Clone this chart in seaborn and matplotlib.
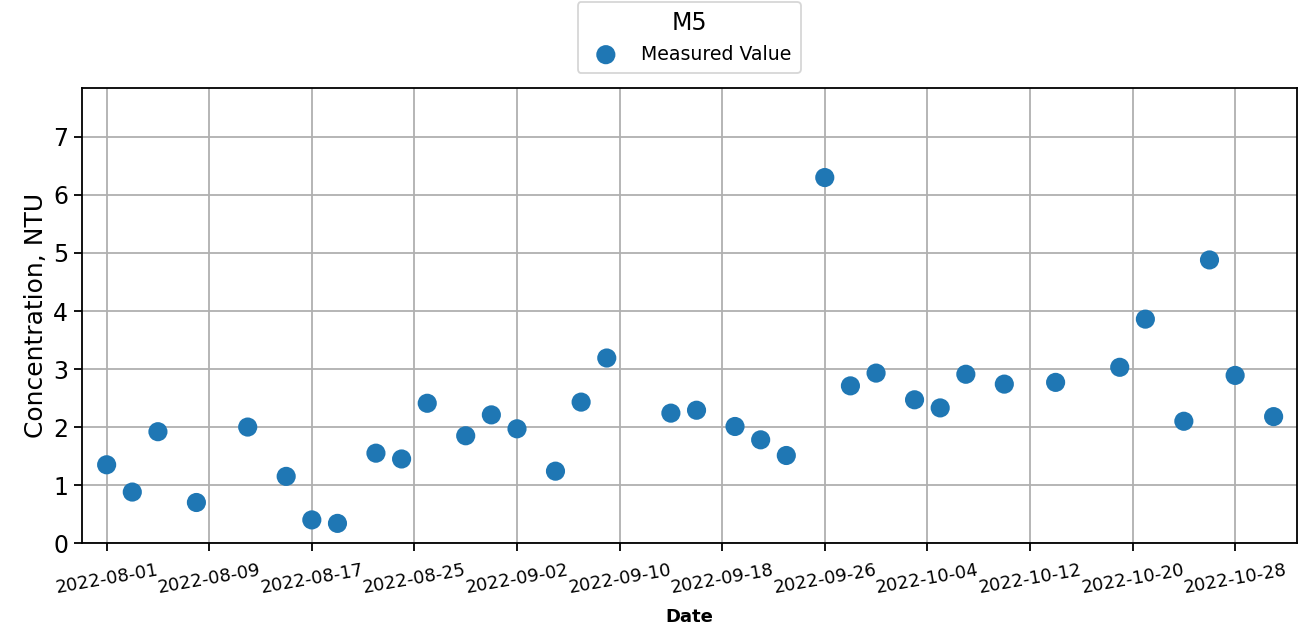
import matplotlib
matplotlib.use("Agg")
import matplotlib.pyplot as plt
import matplotlib.dates as mdates
import seaborn as sns
import pandas as pd

dates = ["2022-08-01", "2022-08-03", "2022-08-05", "2022-08-08", "2022-08-12",
         "2022-08-15", "2022-08-17", "2022-08-19", "2022-08-22", "2022-08-24",
         "2022-08-26", "2022-08-29", "2022-08-31", "2022-09-02", "2022-09-05",
         "2022-09-07", "2022-09-09", "2022-09-14", "2022-09-16", "2022-09-19",
         "2022-09-21", "2022-09-23", "2022-09-26", "2022-09-28", "2022-09-30",
         "2022-10-03", "2022-10-05", "2022-10-07", "2022-10-10", "2022-10-14",
         "2022-10-19", "2022-10-21", "2022-10-24", "2022-10-26", "2022-10-28",
         "2022-10-31"]
values = [1.35, 0.88, 1.92, 0.70, 2.00, 1.15, 0.40, 0.34, 1.55, 1.45,
          2.41, 1.85, 2.21, 1.97, 1.24, 2.43, 3.19, 2.24, 2.29, 2.01,
          1.78, 1.51, 6.30, 2.71, 2.93, 2.47, 2.33, 2.91, 2.74, 2.77,
          3.03, 3.86, 2.10, 4.88, 2.89, 2.18]
tick_dates = ["2022-08-01", "2022-08-09", "2022-08-17", "2022-08-25", "2022-09-02",
              "2022-09-10", "2022-09-18", "2022-09-26", "2022-10-04", "2022-10-12",
              "2022-10-20", "2022-10-28"]
site = "M5"

df = pd.DataFrame({"Date": pd.to_datetime(dates), "Value": values})

sns.set_style("ticks", {"axes.edgecolor": "black", "text.color": "black",
                        "axes.labelcolor": "black", "xtick.color": "black",
                        "ytick.color": "black"})
plt.rcParams['font.family'] = ['DejaVu Sans']

fig, ax = plt.subplots(figsize=(13.15, 6.33), dpi=100)
fig.subplots_adjust(left=0.062, right=0.986, top=0.861, bottom=0.142)

sns.scatterplot(data=df, x="Date", y="Value", ax=ax, s=190, color="#1f77b4",
                edgecolor="none", label="Measured Value", zorder=3)

ax.grid(True, color="#b0b0b0", linewidth=1.3)
ax.set_axisbelow(True)
for sp in ax.spines.values():
    sp.set_linewidth(1.3)

ax.set_xlim(pd.Timestamp("2022-07-30") + pd.Timedelta(hours=1),
            pd.Timestamp("2022-11-01") + pd.Timedelta(hours=19))
ax.set_ylim(0, max(values) * 1.245)
ax.set_xticks(pd.to_datetime(tick_dates))
ax.xaxis.set_major_formatter(mdates.DateFormatter("%Y-%m-%d"))
plt.setp(ax.get_xticklabels(), rotation=10, fontsize=13)
ax.tick_params(axis="y", labelsize=17, length=6, width=1.3)
ax.tick_params(axis="x", length=6, width=1.3, pad=7)

ax.set_xlabel("Date", fontsize=13, fontweight="bold", labelpad=8)
ax.set_ylabel("Concentration, NTU", fontsize=18)

leg = ax.legend(title=site, loc="lower center", bbox_to_anchor=(0.5, 1.012),
                fontsize=13.6, title_fontsize=17, frameon=True, markerscale=1.0,
                handletextpad=0.85, borderpad=0.5)
leg.get_frame().set_edgecolor("#cccccc")
leg.get_frame().set_linewidth(1.3)

fig.savefig("out.png", dpi=100)
